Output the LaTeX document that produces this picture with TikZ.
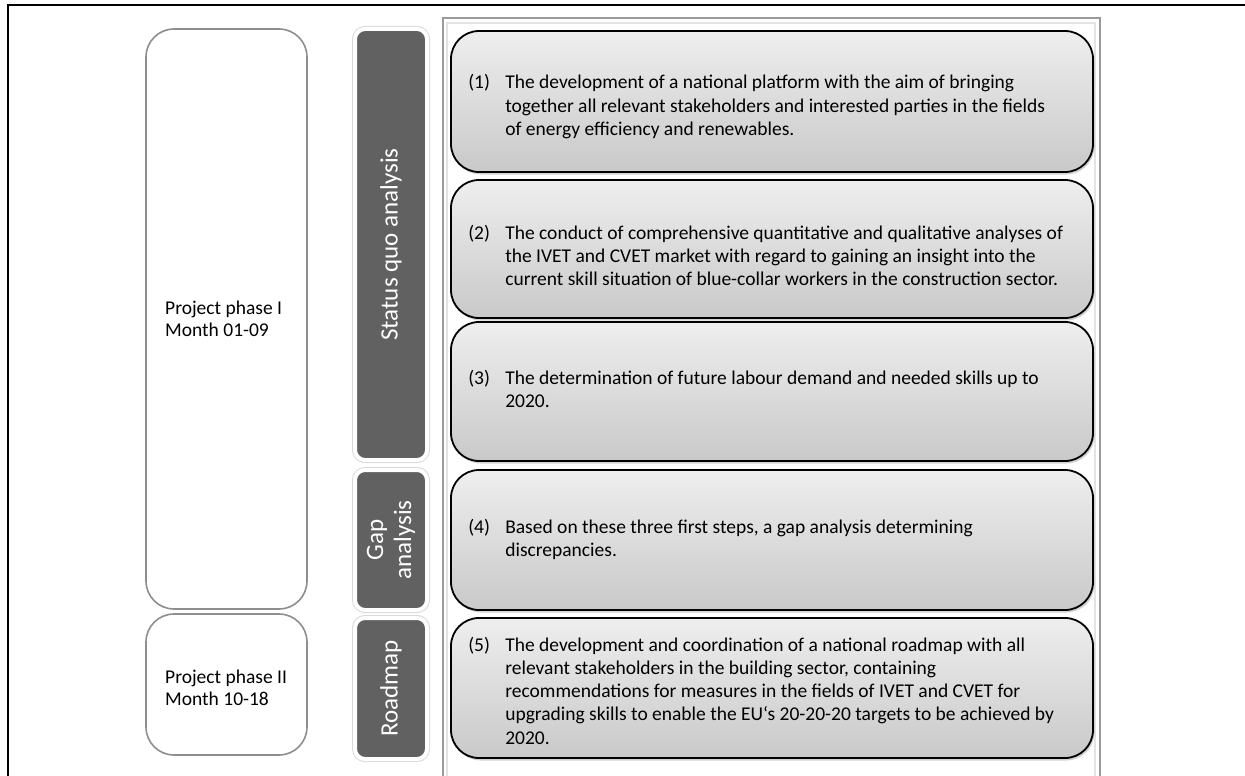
\documentclass[tikz,border=0pt]{standalone}
\usepackage{fontspec}
\setmainfont{Carlito}
\usetikzlibrary{shadows}

\definecolor{tabdark}{HTML}{616161}
\definecolor{phaseline}{HTML}{8E8E8E}
\definecolor{frameline}{HTML}{9A9A9A}
\definecolor{boxtop}{HTML}{EEEEEE}
\definecolor{boxbottom}{HTML}{C9C9C9}

\newcommand{\bodyfont}{\fontsize{19.5}{23.3}\selectfont}

\begin{document}
\begin{tikzpicture}[x=1pt,y=-1pt,
  phasebox/.style={draw=phaseline, line width=1.6pt, fill=white,
    rounded corners=28pt, minimum width=161pt, inner sep=0pt},
  phaselabel/.style={anchor=west, inner sep=0pt, align=left,
    font=\fontsize{19.5}{21.7}\selectfont},
  tabbox/.style={fill=tabdark, draw=white, line width=4pt,
    rounded corners=10pt, minimum height=72pt, inner sep=0pt,
    preaction={draw=gray!30, line width=6pt, rounded corners=10pt},
    text=white, font=\fontsize{25}{28}\selectfont, align=center},
  stepbox/.style={draw=black, line width=1.8pt, rounded corners=28pt,
    top color=boxtop, bottom color=boxbottom,
    minimum width=642pt, inner sep=0pt,
    drop shadow={shadow xshift=1.5pt, shadow yshift=-2.5pt, opacity=.35}},
  steptext/.style={anchor=west, inner sep=0pt, font=\bodyfont}
]
\useasboundingbox (0,0) rectangle (1245,776);

% outer frame (open at right and bottom)
\draw[line width=2.5pt] (8,800) -- (8,5) -- (1260,5);

% container of the step boxes
\draw[draw=gray!22, line width=2pt] (447,23) rectangle (1095,800);
\draw[draw=frameline, line width=2.8pt] (443,18) rectangle (1100,800);

% project phases
\node[phasebox, minimum height=580pt] (ph1) at (226.5,319) {};
\node[phaselabel] (ph1t) at (165,319) {Project phase I\\Month 01-09};
\node[phasebox, minimum height=141pt] (ph2) at (226.5,684.5) {};
\node[phaselabel] (ph2t) at (165,688) {Project phase II\\Month 10-18};

% analysis tabs (rotated: the width runs along the text)
\node[tabbox, minimum width=431pt, rotate=90] (tab1) at (391,244.5) {Status quo analysis};
\node[tabbox, minimum width=140pt, rotate=90] (tab2) at (391,540) {Gap\\analysis};
\node[tabbox, minimum width=141pt, rotate=90] (tab3) at (391,688.5) {Roadmap};

% steps
\node[stepbox, minimum height=141pt] (s1) at (772,101.5) {};
\node[stepbox, minimum height=138pt] (s2) at (772,249) {};
\node[stepbox, minimum height=139pt] (s3) at (772,391.5) {};
\node[stepbox, minimum height=140pt] (s4) at (772,540) {};
\node[stepbox, minimum height=140pt] (s5) at (772,688) {};

\node[steptext] (s1t) at ([xshift=18pt,yshift=-6pt]s1.west) {\begin{tabular}{@{}p{37pt}@{}l@{}}
(1) & The development of a national platform with the aim of bringing\\
    & together all relevant stakeholders and interested parties in the fields\\
    & of energy efficiency and renewables.
\end{tabular}};
\node[steptext] (s2t) at ([xshift=18pt,yshift=-9pt]s2.west) {\begin{tabular}{@{}p{37pt}@{}l@{}}
(2) & The conduct of comprehensive quantitative and qualitative analyses of\\
    & the IVET and CVET market with regard to gaining an insight into the\\
    & current skill situation of blue-collar workers in the construction sector.
\end{tabular}};
\node[steptext] (s3t) at ([xshift=18pt]s3.west) {\begin{tabular}{@{}p{37pt}@{}l@{}}
(3) & The determination of future labour demand and needed skills up to\\
    & 2020.
\end{tabular}};
\node[steptext] (s4t) at ([xshift=18pt]s4.west) {\begin{tabular}{@{}p{37pt}@{}l@{}}
(4) & Based on these three first steps, a gap analysis determining\\
    & discrepancies.
\end{tabular}};
\node[steptext] (s5t) at ([xshift=18pt,yshift=-5pt]s5.west) {\begin{tabular}{@{}p{37pt}@{}l@{}}
(5) & The development and coordination of a national roadmap with all\\
    & relevant stakeholders in the building sector, containing\\
    & recommendations for measures in the fields of IVET and CVET for\\
    & upgrading skills to enable the EU‘s 20-20-20 targets to be achieved by\\
    & 2020.
\end{tabular}};
\end{tikzpicture}
\end{document}
